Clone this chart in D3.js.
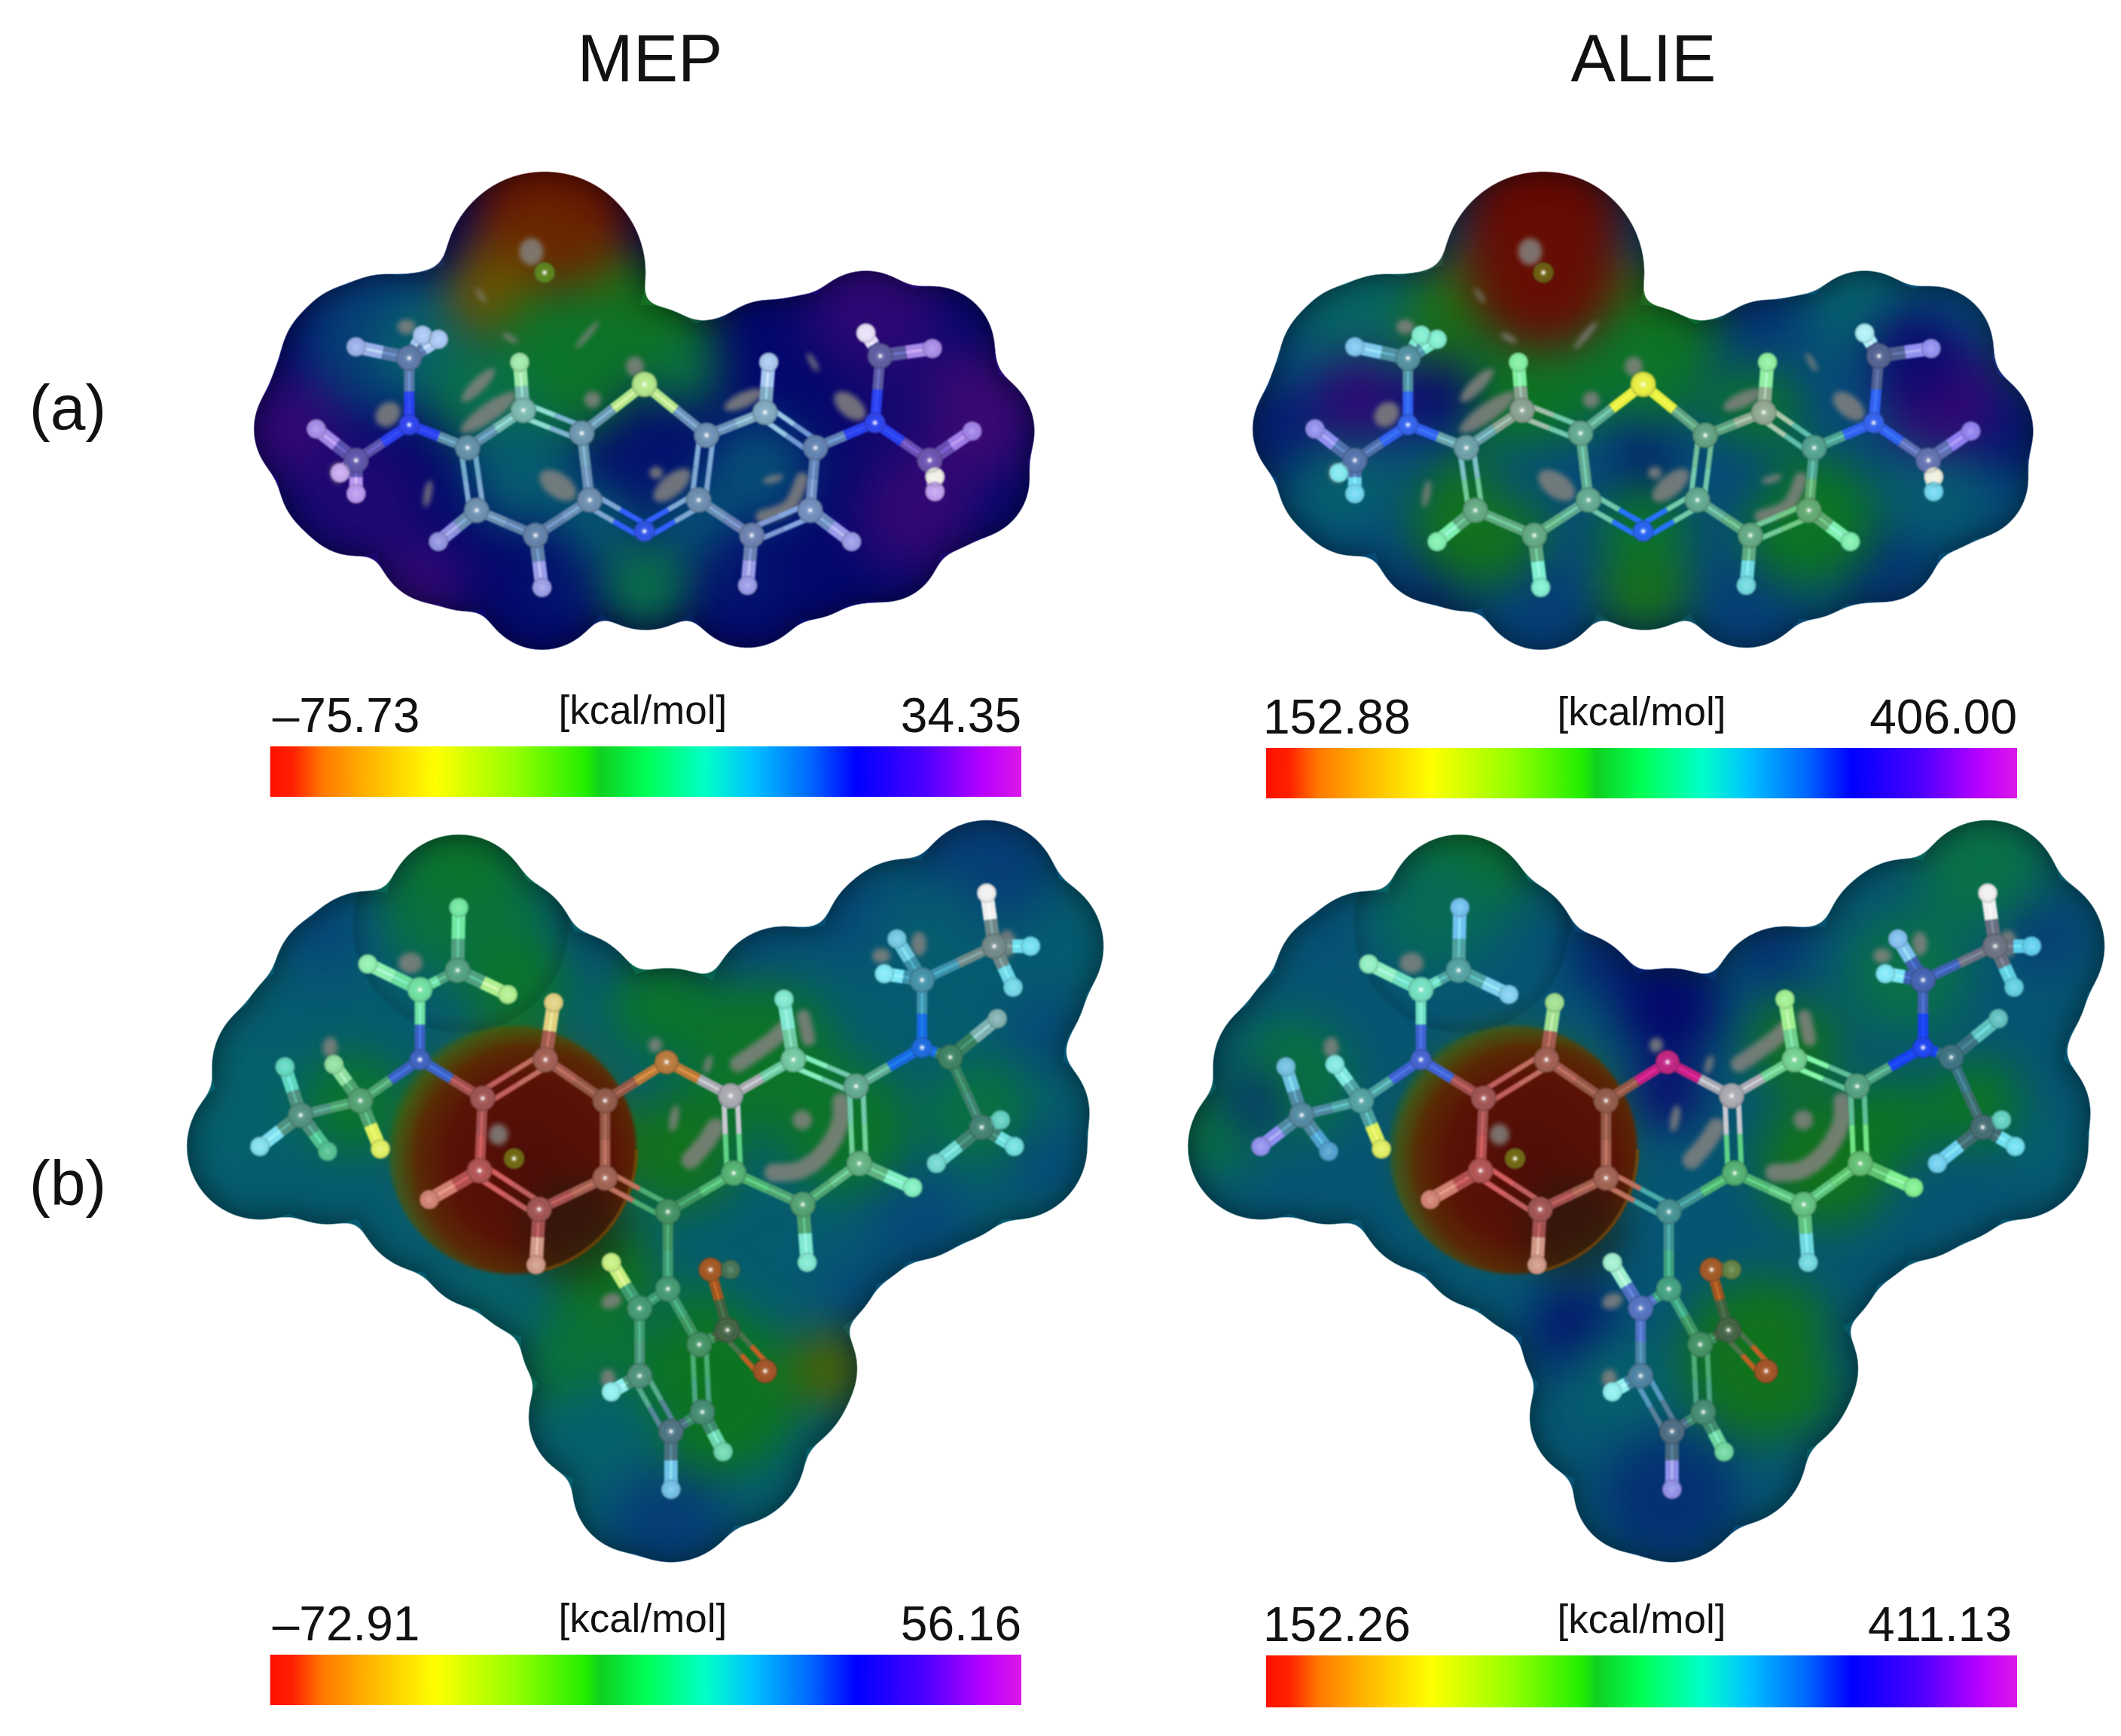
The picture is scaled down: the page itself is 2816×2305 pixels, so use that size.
<!DOCTYPE html>
<html><head><meta charset="utf-8">
<script src="https://d3js.org/d3.v7.min.js"></script>
<style>html,body{margin:0;padding:0;background:#fff}svg{display:block}text{font-family:"Liberation Sans",Arial,sans-serif;fill:#111}</style>
</head><body><svg id="c" width="2816" height="2305"></svg>
<script>
// ---------- labels ----------
const columnTitles = ["MEP", "ALIE"];
const rowLabels = ["(a)", "(b)"];
const unitLabel = "[kcal/mol]";
const barMinLabels = ["\u201375.73", "152.88", "\u201372.91", "152.26"];
const barMaxLabels = ["34.35", "406.00", "56.16", "411.13"];

// ---------- colour bar ----------
const barStops  = [0, .03, .07, .13, .22, .33, .42, .44, .5, .58, .64, .72, .78, .87, .95, 1];
const barColors = ["#ff1000","#ff2000","#ff7a00","#ffb400","#ffff00","#90ff00","#22ee00","#10d020","#00ff55","#00ffc8","#00c4ff","#0066ff","#0000ff","#4a00ff","#b800ff","#dc18e8"];
// the same scale as it looks on the shaded surface
const surfStops  = [0, .12, .22, .33, .43, .52, .6, .68, .78, .88, 1];
const surfColors = ["#640803","#6a2c00","#6a5c00","#3a6400","#0c7420","#0a7048","#06606c","#064a78","#04086c","#2c0874","#4a0a6e"];

// ---------- molecule (a), picture units ----------
const elemA = ["S","C","C","H","C","C","C","C","H","H","N","C","C","C","H","C","C","C","H","H","N","C","H","H","H","C","H","H","H","N","C","H","H","C","H","H","H","Br"];
const xA = [788,670,560,553,455,472,583,685,400,595,788,890,905,1015,1022,1110,1100,990,1178,982,345,345,245,370,400,245,170,215,245,1222,1232,1205,1330,1325,1405,1335,1335,600];
const yA = [573,690,635,520,725,875,935,850,950,1060,925,850,695,640,520,725,875,935,950,1055,670,510,483,455,465,755,680,785,835,665,505,450,487,755,685,795,830,305];
const bondsA = [[0,1],[0,12],[1,2,1],[2,3],[2,4],[4,5,1],[5,6],[6,7],[7,1],[5,8],[6,9],[7,10,1],[10,11,1],[11,12,1],[12,13],[13,14],[13,15,1],[15,16],[16,17,1],[17,11],[16,18],[17,19],[4,20],[20,21],[21,22],[21,23],[21,24],[20,25],[25,26],[25,27],[25,28],[15,29],[29,30],[30,31],[30,32],[29,33],[33,34],[33,35],[33,36]];
const fillA = [[230,520,90],[190,590,75],[220,800,85],[330,860,70],[450,1000,65],[1240,960,75],[1100,1010,70],[1350,570,75],[1400,800,80],[1100,520,90],[930,580,90],[300,480,95],[450,480,110],[790,1000,90],[640,1000,80],[940,1000,80]];
const ringsA = [[570,780],[788,750],[1000,780]];
const grayA = [[575,255,16,18,0],[340,435,12,10,0],[475,575,30,9,-45],[495,640,45,12,-35],[305,645,18,15,-45],[625,815,28,16,35],[840,815,30,14,-40],[810,785,9,8,0],[1030,800,14,5,-15],[975,610,28,10,-25],[1175,625,25,14,40],[1105,520,14,4,60],[770,530,12,13,0],[690,610,11,11,0],[210,785,9,13,0],[535,462,12,4,30],[480,360,12,3,55],[680,455,24,4,-50],[380,835,5,18,10]];
const grayPathsA = [[[[1010,890],[1060,865],[1085,800]],18]];
const atomsMepA  = ["#b4e88a","#6a96ae","#79b8b0","#9fe8a8","#5f8fa8","#6c8fb0","#6080a8","#6a8cb0","#8f92e0","#9a9de8","#2a50e8","#6a8cb0","#6c90b4","#7fa8c0","#a8c8f0","#5f80b0","#6f8cbc","#6b80b0","#9a9ae8","#9a9ae8","#2a40f0","#5a78a8","#9ab0ea","#a8c8f5","#a8c8f5","#5a52a8","#a48ae8","#c8a8f0","#b898f0","#2a40f0","#5a5aa0","#e8e0f8","#a88ae8","#6a50b0","#a080e8","#f0f0e8","#c0a0f0","#5aa020"];
const atomsAlieA = ["#e8f040","#60a890","#88a090","#80f0a0","#6aa0a8","#60a880","#60a880","#60a890","#80f0b0","#80f0d0","#2060f0","#60a890","#60a080","#90a890","#90f0a0","#50a090","#60a870","#60a880","#80f0b0","#70d8e0","#3060f0","#5090a0","#80c8f0","#80f0d0","#80f0d0","#5070a8","#9090f0","#80e8f0","#70d8f0","#3060f0","#506090","#b0f0f8","#9090f0","#6070b0","#9080f0","#f0f0e0","#70d8f0","#6a7a10"];
const surfMepA  = [[300,450,110,.7],[380,480,70,.6],[120,680,70,.9],[250,850,80,.85],[370,1050,60,.9],[1400,650,90,.93],[1220,380,90,.88],[1300,880,80,.9],[1250,650,60,.82],[620,130,110,.02],[600,300,110,.1],[500,350,60,.2],[750,350,50,.28],[800,430,80,.42],[640,520,100,.45],[860,540,50,.5],[480,600,70,.52],[560,780,75,.62],[1000,780,70,.67],[790,740,40,.76],[700,900,50,.62],[880,900,50,.66],[790,1060,60,.52],[630,1060,50,.76],[980,1050,50,.76]];
const surfAlieA = [[270,420,90,.58],[1200,380,70,.6],[220,800,70,.6],[1330,840,70,.62],[90,680,60,.75],[1480,680,60,.76],[600,1130,70,.7],[990,1130,70,.7],[400,1050,50,.74],[1230,1020,60,.72],[1000,400,50,.72],[250,610,60,.88],[1350,600,80,.9],[1300,500,60,.8],[400,600,50,.8],[430,330,40,.2],[780,350,40,.25],[420,420,60,.4],[830,440,70,.42],[620,500,110,.45],[550,640,60,.43],[820,560,60,.45],[1000,640,60,.45],[480,900,90,.42],[1100,900,90,.44],[790,1060,60,.4],[790,920,60,.45],[560,780,45,.65],[980,780,45,.68],[790,750,35,.76],[600,170,110,0],[600,310,100,.02]];

// ---------- molecule (b), picture units ----------
const elemB = ["N","C","C","H","H","H","C","C","H","H","H","H","H","C","C","H","C","C","C","H","C","H","Br","O","C","C","H","C","C","H","C","H","C","C","N","C","C","H","H","H","H","H","C","C","H","H","H","H","C","C","H","C","H","C","H","C","H","C","C","O","O","H"];
const xB = [405,405,465,467,322,545,310,215,190,150,258,268,342,505,605,618,700,700,595,590,500,420,555,798,900,1000,985,1100,1105,1190,1015,1022,905,800,1205,1205,1320,1308,1378,1350,1165,1145,1250,1300,1325,1352,1330,1228,800,755,710,755,710,805,805,855,888,850,895,955,868,900];
const yB = [510,365,325,195,312,375,595,625,525,690,700,520,695,590,510,392,595,755,820,935,740,800,715,515,585,510,385,565,725,775,810,930,745,825,485,345,275,165,275,360,260,332,505,650,425,690,635,725,985,1025,930,1165,1198,1280,1400,1240,1322,1100,1070,1155,945,945];
const bondsB = [[0,1],[1,4],[1,2],[2,3],[2,5],[0,6],[6,7],[7,8],[7,9],[7,10],[6,11],[6,12],[0,13],[13,14,1],[14,15],[14,16],[16,17],[17,18],[18,19],[18,20,1],[20,13],[20,21],[16,23],[23,24],[24,25],[24,32,1],[25,26],[25,27,1],[27,28,1],[28,29],[28,30],[30,31],[30,32],[17,33,1],[32,33],[27,34],[34,35],[35,36],[36,37],[36,38],[36,39],[35,40],[35,41],[34,42],[42,43],[42,44],[43,45],[43,46],[43,47],[33,48],[48,49],[49,50],[49,51],[51,52],[51,53,1],[53,54],[53,55],[55,56],[55,57,1],[57,48],[57,58],[58,59,1],[58,60],[60,61]];
const fillB = [[190,530,85],[280,340,90],[220,440,80],[540,280,95],[640,400,100],[800,500,115],[1050,390,100],[1180,250,100],[1330,480,85],[1370,620,85],[1250,750,90],[1100,800,90],[1100,850,85],[650,1100,70],[680,1250,85],[750,1400,85],[900,1320,100],[1000,1150,85],[500,900,80],[350,740,75]];
const ringsB = [[600,670],[1000,665],[805,1130]];
const grayB = [[530,665,13,14,0],[390,310,16,14,0],[262,485,10,14,0],[1340,270,12,18,0],[1200,270,10,16,0],[1140,295,12,10,0],[1014,635,13,13,0],[810,632,6,18,10],[864,520,5,13,15],[710,1010,14,10,-20],[705,1170,10,12,0],[780,480,9,10,0]];
const grayPathsB = [[[[968,744],[1012,738],[1052,697],[1076,635],[1076,597]],24],[[[912,519],[968,468],[984,448]],22],[[[1016,421],[1024,468]],18],[[[836,718],[860,682],[876,650]],24]];
const sphereB = [552,697,165];
const sphereRimAngles = [0.05, 2.9];
const sphereShadeB = [650,860,70];
const lobesB = [[470,230,145]];
const atomsMepB  = ["#3a60c0","#6ee0a0","#50a080","#70e8a0","#90f0b0","#b0f090","#50a070","#50907f","#60d8c0","#80e0f0","#50c090","#90e0a0","#e0f060","#a05050","#a05c50","#e0d080","#905848","#a06050","#a05050","#d09888","#b05050","#d08070","#7a8a10","#b87838","#a8a8b0","#70c8a0","#80e8d0","#60a890","#60b080","#80f0c0","#50a070","#80e8d0","#50b070","#409060","#1868e0","#4090a8","#708888","#f0f0f0","#70e0f0","#70d8e8","#70c8e0","#80e8f8","#3a8060","#408070","#80b0b0","#70e0e0","#60d0c0","#70d8d0","#409870","#409870","#c8f080","#4a9078","#90f0f0","#4a7080","#70c0e8","#408a70","#70d8b0","#409060","#406040","#a05020","#a05520","#407050"];
const atomsAlieB = ["#4060d0","#70e0c0","#50a0a0","#70c0f0","#90f0c0","#80d0f0","#50a0a0","#5088a0","#70c0e0","#9090f0","#50a0d0","#80e8e0","#e0f060","#a05050","#a05c50","#a0e090","#905848","#a06050","#a05050","#d09888","#b05050","#d08070","#7a8a10","#c02080","#a8a8b0","#70d090","#a0f090","#50a080","#60c070","#80f090","#60c080","#70d8e0","#50b070","#40908f","#1840f0","#4060b0","#6a7080","#f0f0f0","#60d0f0","#60d0e0","#80c0f0","#80e8f8","#3a7080","#406a70","#60c0c0","#70e0f0","#60d0c0","#70d0f0","#40a080","#5070c0","#a0f0d0","#4a80a0","#90f0f0","#4a6a80","#9090e8","#408a70","#70d8a0","#409060","#406040","#a05020","#a05520","#608040"];
const surfMepB  = [[470,170,110,.5],[470,80,70,.46],[560,350,70,.46],[250,230,70,.68],[130,600,90,.6],[300,600,70,.46],[680,280,40,.66],[950,270,50,.68],[790,400,70,.46],[950,500,100,.45],[1080,650,90,.45],[1300,620,70,.5],[1300,80,100,.7],[1100,200,70,.68],[1220,260,80,.62],[820,700,80,.42],[700,950,70,.42],[520,1010,40,.58],[680,1150,90,.48],[880,1200,110,.43],[1060,1150,50,.28],[700,1300,80,.6],[800,1480,80,.7],[850,1030,40,.44],[1100,1000,50,.68],[1200,850,70,.68],[1400,720,50,.68],[1400,450,50,.68],[560,680,135,.3]];
const surfAlieB = [[470,100,90,.46],[430,200,80,.55],[200,550,80,.5],[80,650,60,.5],[250,230,50,.66],[140,600,40,.72],[800,400,70,.78],[800,580,45,.8],[650,1070,60,.76],[700,300,50,.74],[960,280,50,.72],[1000,480,60,.42],[1050,720,90,.42],[1150,640,60,.44],[1290,600,60,.44],[950,1130,110,.42],[1180,330,80,.52],[1300,100,90,.52],[720,1180,70,.6],[1400,250,50,.7],[800,1420,90,.72],[1100,1100,50,.64],[1400,700,60,.62],[555,680,135,.33]];

// radii by element (surface and stick model)
const surfRadiusA = {H:83,C:100,N:95,S:105,Br:134};
const surfRadiusB = {H:97,C:115,N:110,O:118,Br:115};
const atomRadius  = {H:13,C:17,N:14,S:17,O:16,Br:14};

// small label nudges per colour bar
const maxLabelDx = [0,0,0,-7];
const minLabelDx = [3,-4,3,-4];
const unitLabelDx = [-4,0,-4,0];

// ---------- layout ----------
const panels = [
 {id:"p0",x0:300, x1:1400,y0:193, y1:1057,dw:1560,dh:1560,elem:elemA,xs:xA,ys:yA,fill:fillA,bonds:bondsA,rings:ringsA,gray:grayA,grayPaths:grayPathsA,atoms:atomsMepA, surf:surfMepA, base:.78,rad:surfRadiusA,bar:[358.7,1356,991,1058],lo:0,col:0},
 {id:"p1",x0:1626,x1:2726,y0:193, y1:1057,dw:1560,dh:1560,elem:elemA,xs:xA,ys:yA,fill:fillA,bonds:bondsA,rings:ringsA,gray:grayA,grayPaths:grayPathsA,atoms:atomsAlieA,surf:surfAlieA,base:.68,rad:surfRadiusA,bar:[1681,2678,993,1060],lo:1,col:1},
 {id:"p2",x0:220, x1:1520,y0:1080,y1:2080,dw:1560,dh:1560,elem:elemB,xs:xB,ys:yB,fill:fillB,bonds:bondsB,rings:ringsB,gray:grayB,grayPaths:grayPathsB,atoms:atomsMepB, surf:surfMepB, base:.62,rad:surfRadiusB,sphere:sphereB,lobes:lobesB,bar:[358.7,1356,2197,2264],lo:2,col:0},
 {id:"p3",x0:1549,x1:2849,y0:1080,y1:2080,dw:1560,dh:1560,elem:elemB,xs:xB,ys:yB,fill:fillB,bonds:bondsB,rings:ringsB,gray:grayB,grayPaths:grayPathsB,atoms:atomsAlieB,surf:surfAlieB,base:.64,rad:surfRadiusB,sphere:sphereB,lobes:lobesB,bar:[1681,2678,2198,2267],lo:3,col:1}
];

const svg = d3.select("#c");
const defs = svg.append("defs");
const surfColor = d3.scaleLinear().domain(surfStops).range(surfColors).clamp(true);
const region = f => f.attr("filterUnits","userSpaceOnUse").attr("x",0).attr("y",0).attr("width",2816).attr("height",2305).attr("color-interpolation-filters","sRGB");

// filters
const goo = region(defs.append("filter").attr("id","goo"));
goo.append("feGaussianBlur").attr("in","SourceGraphic").attr("stdDeviation",14);
goo.append("feColorMatrix").attr("values","1 0 0 0 0 0 1 0 0 0 0 0 1 0 0 0 0 0 22 -10");
region(defs.append("filter").attr("id","soft")).append("feGaussianBlur").attr("stdDeviation",30);
region(defs.append("filter").attr("id","soft3")).append("feGaussianBlur").attr("stdDeviation",2);
region(defs.append("filter").attr("id","soft4")).append("feGaussianBlur").attr("stdDeviation",22);
region(defs.append("filter").attr("id","soft2")).append("feGaussianBlur").attr("stdDeviation",3.5);
region(defs.append("filter").attr("id","soft1")).append("feGaussianBlur").attr("stdDeviation",1.2);
const inner = region(defs.append("filter").attr("id","inner"));
inner.append("feGaussianBlur").attr("in","SourceAlpha").attr("stdDeviation",20).attr("result","b");
const ct = inner.append("feComponentTransfer").attr("in","b").attr("result","inv");
ct.append("feFuncA").attr("type","table").attr("tableValues","1 0");
inner.append("feComposite").attr("in","inv").attr("in2","SourceAlpha").attr("operator","in");

// gradients
const grad = defs.append("linearGradient").attr("id","rainbow");
grad.selectAll("stop").data(barStops).join("stop").attr("offset",d=>d).attr("stop-color",(d,i)=>barColors[i]);
const radial = (id,stops,attrs={})=>{
  const r=defs.append("radialGradient").attr("id",id);
  Object.entries(attrs).forEach(([k,v])=>r.attr(k,v));
  r.selectAll("stop").data(stops).join("stop")
   .attr("offset",d=>d[0]).attr("stop-color",d=>d[1]).attr("stop-opacity",d=>d[2]);
};
radial("redSphere",[[0,"#4f0d08",1],[.55,"#5a1206",1],[.76,"#5a2a04",.98],[.9,"#505408",.75],[1,"#2a6a10",0]],{cx:.57,cy:.54,r:.6});
radial("lobeRim",[[0,"#000",0],[.82,"#000",0],[.97,"#000",.12],[1,"#000",.03]]);
radial("ball",[[0,"#fff",.22],[.6,"#fff",0],[1,"#000",.22]]);

const grayLine = d3.line().curve(d3.curveCatmullRom);

panels.forEach(p=>{
  const x = d3.scaleLinear().domain([0,p.dw]).range([p.x0,p.x1]);
  const y = d3.scaleLinear().domain([0,p.dh]).range([p.y0,p.y1]);
  const g = svg.append("g").attr("class","panel");
  const atoms = p.elem.map((e,i)=>({e,i,x:x(p.xs[i]),y:y(p.ys[i]),c:p.atoms[i]}));
  const spheres = atoms.map(a=>({x:a.x,y:a.y,r:p.rad[a.e]}))
    .concat(p.fill.map(f=>({x:x(f[0]),y:y(f[1]),r:f[2]})));

  // silhouette: union of van der Waals spheres
  const mask = defs.append("mask").attr("id",p.id+"m").attr("maskUnits","userSpaceOnUse")
    .attr("x",0).attr("y",0).attr("width",2816).attr("height",2305);
  const circles = sel => sel.selectAll("circle").data(spheres).join("circle")
    .attr("cx",d=>d.x).attr("cy",d=>d.y).attr("r",d=>d.r);
  mask.append("g").attr("filter","url(#goo)").attr("fill","#fff").call(circles);

  const surf = g.append("g").attr("mask",`url(#${p.id}m)`);
  surf.append("rect").attr("x",p.x0-100).attr("y",p.y0-100).attr("width",p.x1-p.x0+200).attr("height",p.y1-p.y0+200)
    .attr("fill",surfColor(p.base));
  surf.append("g").attr("filter","url(#soft)").selectAll("circle").data(p.surf).join("circle")
    .attr("cx",d=>x(d[0])).attr("cy",d=>y(d[1])).attr("r",d=>d[2]).attr("fill",d=>surfColor(d[3]));
  if(p.sphere){
    surf.append("circle").attr("cx",x(p.sphere[0])).attr("cy",y(p.sphere[1])).attr("r",p.sphere[2])
      .attr("fill","url(#redSphere)").attr("filter","url(#soft3)");
    surf.append("circle").attr("cx",x(sphereShadeB[0])).attr("cy",y(sphereShadeB[1])).attr("r",sphereShadeB[2])
      .attr("fill","#1a1a10").attr("opacity",.55).attr("filter","url(#soft4)");
    surf.append("path").attr("transform",`translate(${x(p.sphere[0])},${y(p.sphere[1])})`)
      .attr("d",d3.arc().innerRadius(p.sphere[2]-2).outerRadius(p.sphere[2]+2)
        .startAngle(sphereRimAngles[0]).endAngle(sphereRimAngles[1])())
      .attr("fill","#8a4a00").attr("opacity",.7).attr("filter","url(#soft1)");
    surf.append("g").selectAll("circle").data(p.lobes).join("circle")
      .attr("cx",d=>x(d[0])).attr("cy",d=>y(d[1])).attr("r",d=>d[2]).attr("fill","url(#lobeRim)");
  }
  // darkened rim
  surf.append("g").attr("filter","url(#inner)").attr("opacity",.55).attr("fill","#000").call(circles);
  // grey patches where the model pokes through
  const gr = surf.append("g").attr("filter","url(#soft2)").attr("opacity",.85);
  gr.selectAll("ellipse").data(p.gray).join("ellipse")
    .attr("rx",d=>d[2]).attr("ry",d=>d[3])
    .attr("transform",d=>`translate(${x(d[0])},${y(d[1])}) rotate(${d[4]})`)
    .attr("fill","#84827f");
  gr.selectAll("path").data(p.grayPaths).join("path")
    .attr("d",d=>grayLine(d[0].map(q=>[x(q[0]),y(q[1])])))
    .attr("fill","none").attr("stroke","#84827f").attr("stroke-width",d=>d[1]).attr("stroke-linecap","round");

  // ball and stick
  const model = g.append("g").attr("filter","url(#soft1)");
  const halves = [], stripes = [];
  p.bonds.forEach(b=>{
    const A=atoms[b[0]],B=atoms[b[1]],mx=(A.x+B.x)/2,my=(A.y+B.y)/2;
    let nx=-(B.y-A.y),ny=B.x-A.x; const L=Math.hypot(nx,ny); nx/=L;ny/=L;
    if(b[2]){
      [-9,9].forEach(o=>{
        const tx=(B.x-A.x)*.1,ty=(B.y-A.y)*.1;
        halves.push({x1:A.x+nx*o+tx,y1:A.y+ny*o+ty,x2:mx+nx*o,y2:my+ny*o,c:d3.color(A.c).brighter(.5),w:7},
                    {x1:mx+nx*o,y1:my+ny*o,x2:B.x+nx*o-tx,y2:B.y+ny*o-ty,c:d3.color(B.c).brighter(.5),w:7});
      });
    } else {
      const w=(A.e==="H"||B.e==="H")?18:14;
      halves.push({x1:A.x,y1:A.y,x2:mx,y2:my,c:A.c,w},{x1:mx,y1:my,x2:B.x,y2:B.y,c:B.c,w});
      stripes.push({x1:A.x,y1:A.y,x2:mx,y2:my,c:d3.color(A.c).brighter(1)},{x1:mx,y1:my,x2:B.x,y2:B.y,c:d3.color(B.c).brighter(1)});
    }
  });
  const lines=(sel,data)=>sel.selectAll("line").data(data).join("line")
    .attr("x1",d=>d.x1).attr("y1",d=>d.y1).attr("x2",d=>d.x2).attr("y2",d=>d.y2).attr("stroke",d=>d.c);
  model.append("g").call(lines,halves).selectAll("line").attr("stroke-width",d=>d.w).attr("stroke-linecap","butt");
  model.append("g").attr("opacity",.65).call(lines,stripes).selectAll("line").attr("stroke-width",3);
  const balls=model.append("g");
  balls.selectAll("circle.a").data(atoms).join("circle").attr("class","a")
    .attr("cx",d=>d.x).attr("cy",d=>d.y).attr("r",d=>atomRadius[d.e]).attr("fill",d=>d.c)
    .attr("opacity",d=>d.e==="Br"?.7:1);
  balls.selectAll("circle.s").data(atoms).join("circle").attr("class","s")
    .attr("cx",d=>d.x).attr("cy",d=>d.y).attr("r",d=>atomRadius[d.e]).attr("fill","url(#ball)");
  balls.selectAll("circle.h").data(atoms.filter(d=>d.e!=="H")).join("circle").attr("class","h")
    .attr("cx",d=>d.x).attr("cy",d=>d.y).attr("r",2.8).attr("fill","#fff").attr("opacity",.75);

  // colour bar
  const [bx0,bx1,by0,by1]=p.bar;
  const barScale=d3.scaleLinear().domain([0,1]).range([bx0,bx1]);
  g.append("rect").attr("x",barScale(0)).attr("y",by0).attr("width",barScale(1)-barScale(0)).attr("height",by1-by0).attr("fill","url(#rainbow)");
  g.append("text").attr("x",barScale(0)+minLabelDx[p.lo]).attr("y",by0-19).attr("font-size",64).text(barMinLabels[p.lo]);
  g.append("text").attr("x",barScale(1)+maxLabelDx[p.lo]).attr("y",by0-19).attr("text-anchor","end").attr("font-size",64).text(barMaxLabels[p.lo]);
  g.append("text").attr("x",barScale(.5)+unitLabelDx[p.lo]).attr("y",by0-30.5).attr("text-anchor","middle").attr("font-size",53).text(unitLabel);
});

// titles and row labels
svg.selectAll("text.col").data(columnTitles).join("text").attr("class","col")
  .attr("x",(d,i)=>[863,2182][i]).attr("y",108).attr("text-anchor","middle").attr("font-size",89).text(d=>d);
svg.selectAll("text.row").data(rowLabels).join("text").attr("class","row")
  .attr("x",90).attr("y",(d,i)=>[570,1600][i]).attr("text-anchor","middle").attr("font-size",84).text(d=>d);
</script></body></html>
